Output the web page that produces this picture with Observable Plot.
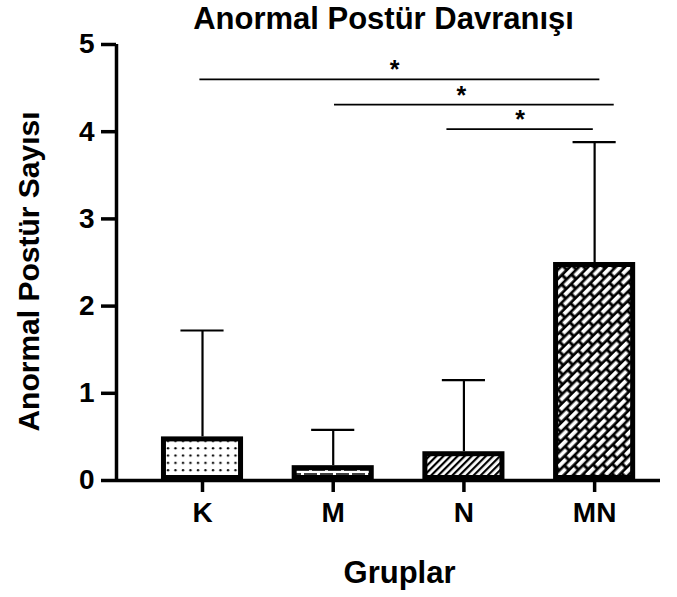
<!DOCTYPE html>
<html>
<head>
<meta charset="utf-8">
<script src="https://cdn.jsdelivr.net/npm/d3@7"></script>
<script src="https://cdn.jsdelivr.net/npm/@observablehq/plot@0.6"></script>
<style>
  html, body { margin: 0; padding: 0; background: #fff; }
  #chart svg { display: block; }
</style>
</head>
<body>
<div id="chart"></div>
<script>
// ---- data ----
const groups   = ["K", "M", "N", "MN"];
const means    = [0.5, 0.17, 0.33, 2.5];
const sds      = [1.22, 0.41, 0.82, 1.38];
const patterns = ["dots", "hbrick", "hatch", "dbrick"];

// significance brackets (x in category-index units)
const bracketX1 = [-0.02, 1.01, 1.87];
const bracketX2 = [3.04, 3.15, 2.99];
const bracketY  = [4.60, 4.31, 4.03];
const starX     = [1.47, 1.98, 2.43];
const starText  = ["*", "*", "*"];

const yTicks = [0, 1, 2, 3, 4, 5];
const title = "Anormal Postür Davranışı";
const yLabel = "Anormal Postür Sayısı";
const xLabel = "Gruplar";

// ---- tables ----
const bars = groups.map((g, i) => ({i, g, mean: means[i], top: means[i] + sds[i], pat: patterns[i]}));
const brackets = bracketY.map((y, k) => ({x1: bracketX1[k], x2: bracketX2[k], y, sx: starX[k], t: starText[k]}));

const xDomain = [-0.658, 3.504];
const halfBar = 0.314;
const halfCap = 0.165;
const font = "'Liberation Sans', Arial, sans-serif";

const svg = Plot.plot({
  width: 677,
  height: 597,
  marginTop: 44,
  marginBottom: 117,
  marginLeft: 116,
  marginRight: 17,
  style: {fontFamily: font, fontWeight: "bold", color: "#000", background: "transparent"},
  x: {type: "linear", domain: xDomain},
  y: {domain: [0, 5]},
  color: {type: "identity"},
  marks: [
    Plot.rectY(bars, {
      x1: d => d.i - halfBar, x2: d => d.i + halfBar,
      y1: 0, y2: "mean",
      fill: d => `url(#pat-${d.pat})`,
      stroke: "#000", strokeWidth: 5,
      inset: 2.5
    }),
    Plot.ruleX(bars, {x: "i", y1: "mean", y2: "top", stroke: "#000", strokeWidth: 2.2}),
    Plot.ruleY(bars, {y: "top", x1: d => d.i - halfCap, x2: d => d.i + halfCap, stroke: "#000", strokeWidth: 2.2}),
    Plot.ruleY([0], {stroke: "#000", strokeWidth: 3.5}),
    Plot.ruleX([xDomain[0]], {y1: 0, y2: 5, stroke: "#000", strokeWidth: 3.5}),
    Plot.axisY({ticks: yTicks, tickSize: 15, tickPadding: 7, fontSize: 28, strokeWidth: 3.5, label: null, tickFormat: d => d}),
    Plot.axisX({ticks: [0, 1, 2, 3], tickSize: 12, tickPadding: 10, fontSize: 28, strokeWidth: 3.5, label: null, tickFormat: i => groups[i]}),
    Plot.ruleY(brackets, {y: "y", x1: "x1", x2: "x2", stroke: "#000", strokeWidth: 1.6}),
    Plot.text(brackets, {x: "sx", y: "y", text: "t", dy: -1, fontSize: 25, lineAnchor: "bottom"}),
    Plot.text([title], {text: d => d, frameAnchor: "top", dx: -5, dy: -25, fontSize: 31, lineAnchor: "middle"}),
    Plot.text([yLabel], {text: d => d, frameAnchor: "left", textAnchor: "middle", dx: -87, dy: 9, rotate: -90, fontSize: 30, lineAnchor: "middle"}),
    Plot.text([xLabel], {text: d => d, frameAnchor: "bottom", dx: 11, dy: 93, fontSize: 31, lineAnchor: "middle"})
  ]
});

d3.select(svg).insert("defs", ":first-child").html(`
  <pattern id="pat-dots" patternUnits="userSpaceOnUse" width="7.5" height="7.3">
    <rect width="7.5" height="7.3" fill="#fff"/>
    <circle cx="3" cy="3" r="1.2" fill="#000"/>
  </pattern>
  <pattern id="pat-hbrick" patternUnits="userSpaceOnUse" width="16" height="8">
    <rect width="16" height="8" fill="#fff"/>
    <path d="M0 2H13M8 6H16M0 6H5" stroke="#000" stroke-width="1.6"/>
  </pattern>
  <pattern id="pat-hatch" patternUnits="userSpaceOnUse" width="5" height="10" patternTransform="rotate(45)">
    <rect width="5" height="10" fill="#fff"/>
    <rect width="2.2" height="10" fill="#000"/>
  </pattern>
  <pattern id="pat-dbrick" patternUnits="userSpaceOnUse" width="14" height="13" patternTransform="rotate(-45)">
    <rect width="14" height="13" fill="#000"/>
    <rect x="1.5" y="1.5" width="11" height="3.8" fill="#fff"/>
    <rect x="-5.5" y="8" width="11" height="3.8" fill="#fff"/>
    <rect x="8.5" y="8" width="11" height="3.8" fill="#fff"/>
  </pattern>
`);

document.getElementById("chart").appendChild(svg);
</script>
</body>
</html>
